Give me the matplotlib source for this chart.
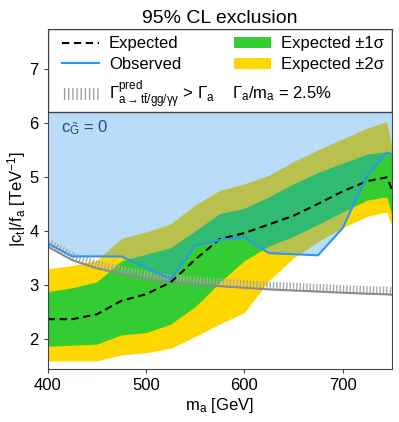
import matplotlib
matplotlib.use('Agg')
import matplotlib.pyplot as plt
import matplotlib.patheffects as pe
from matplotlib.patches import Patch
from matplotlib.lines import Line2D

plt.rcParams['font.family'] = ['Liberation Sans', 'DejaVu Sans']
plt.rcParams['mathtext.fontset'] = 'custom'
plt.rcParams['mathtext.rm'] = 'Liberation Sans'
plt.rcParams['mathtext.it'] = 'Liberation Sans:italic'
plt.rcParams['mathtext.default'] = 'regular'

# pseudoscalar mass points [GeV]
mass = [400, 425, 450, 475, 500, 525, 550, 575, 600, 625, 650, 675, 700, 725, 745, 750]
# limits on |c_t|/f_a [TeV^-1]
exp_m2 = [1.60, 1.60, 1.60, 1.71, 1.75, 1.83, 2.05, 2.28, 2.49, 3.08, 3.50, 3.80, 4.06, 4.27, 4.35, 4.10]
exp_m1 = [1.87, 1.89, 1.91, 2.08, 2.12, 2.28, 2.60, 3.05, 3.45, 3.72, 3.90, 4.12, 4.35, 4.57, 4.63, 4.30]
expected = [2.37, 2.37, 2.46, 2.71, 2.83, 3.05, 3.47, 3.85, 3.96, 4.12, 4.28, 4.50, 4.73, 4.92, 4.99, 4.78]
exp_p1 = [2.88, 2.95, 3.06, 3.45, 3.57, 3.69, 4.00, 4.32, 4.42, 4.63, 4.87, 5.08, 5.25, 5.42, 5.46, 5.40]
exp_p2 = [3.30, 3.36, 3.46, 3.86, 3.98, 4.13, 4.48, 4.75, 4.87, 5.03, 5.28, 5.50, 5.70, 5.90, 6.02, 5.56]
observed = [3.77, 3.53, 3.53, 3.53, 3.32, 3.11, 3.73, 3.83, 3.88, 3.59, 3.57, 3.55, 4.05, 5.02, 5.45, 5.42]
# predicted partial width exceeds total width above this curve
width_limit = [3.71, 3.46, 3.31, 3.21, 3.12, 3.06, 3.02, 2.98, 2.95, 2.92, 2.90, 2.88, 2.86, 2.84, 2.83, 2.82]

xticks = [400, 500, 600, 700]
yticks = [2, 3, 4, 5, 6, 7]
ylim = (1.45, 7.73)
legend_bottom = 6.2

green = '#33cc33'
yellow = '#ffd700'
blue = '#2d96f0'

fig = plt.figure(figsize=(3.99, 4.22), dpi=100)
ax = fig.add_axes([0.1195, 0.1256, 0.8622, 0.8057])

ax.fill_between(mass, exp_m2, exp_p2, color=yellow, lw=0, zorder=1)
ax.fill_between(mass, exp_m1, exp_p1, color=green, lw=0, zorder=2)
ax.fill_between(mass, observed, 10, color=blue, alpha=0.33, lw=0, zorder=3)

ax.plot(mass, width_limit, color='#8c8c8c', lw=1.5, zorder=4,
        path_effects=[pe.TickedStroke(angle=90, spacing=2.4, length=2.1,
                                      foreground='#a8a8a8', linewidth=1.0),
                      pe.Normal()])
ax.plot(mass, expected, color='black', ls='--', dashes=(3.5, 2.2), lw=1.5, zorder=6)
ax.plot(mass, observed, color=blue, lw=1.5, zorder=7)

# legend area on top of the plot
ax.axhspan(legend_bottom, ylim[1], facecolor='white', edgecolor='#444444', lw=1, zorder=8)

handles = [
    Line2D([], [], color='black', ls='--', dashes=(3.5, 2.2), lw=1.5),
    Line2D([], [], color=blue, lw=1.5),
    Patch(facecolor='none', edgecolor='#a0a0a0', hatch='||||', lw=0),
    Patch(facecolor=green, lw=0),
    Patch(facecolor=yellow, lw=0),
]
labels = [
    'Expected',
    'Observed',
    r'$\Gamma^{pred}_{a\rightarrow t\bar{t}/gg/\gamma\gamma}$ > $\Gamma_a$',
    'Expected ±1σ',
    'Expected ±2σ',
]
leg = ax.legend(handles, labels, ncol=2, loc='upper left', bbox_to_anchor=(0.042, 0.978),
                frameon=False, fontsize=12, handlelength=2.2, handletextpad=0.6,
                columnspacing=1.15, labelspacing=0.35, borderpad=0, borderaxespad=0)
leg.set_zorder(10)
ax.text(0.536, 0.81, r'$\Gamma_a/m_a$ = 2.5%', transform=ax.transAxes,
        fontsize=12, va='center', ha='left', zorder=10)

ax.text(0.04, 0.709, r'$c_{\tilde{G}}$ = 0', transform=ax.transAxes,
        fontsize=12, color='#264b7d', va='center', ha='left', zorder=10)

ax.set_xlim(400, 750)
ax.set_ylim(*ylim)
ax.set_xticks(xticks)
ax.set_yticks(yticks)
ax.tick_params(labelsize=12, length=3, width=0.8, color='#444444')
for s in ax.spines.values():
    s.set_color('#444444')
    s.set_zorder(11)

ax.set_xlabel(r'$m_a$ [GeV]', fontsize=12, labelpad=2)
ax.set_ylabel(r'$|c_t|/f_a$ [TeV$^{-1}$]', fontsize=12, labelpad=1)
ax.set_title('95% CL exclusion', fontsize=14, pad=4)

fig.savefig('out.png', dpi=100)
